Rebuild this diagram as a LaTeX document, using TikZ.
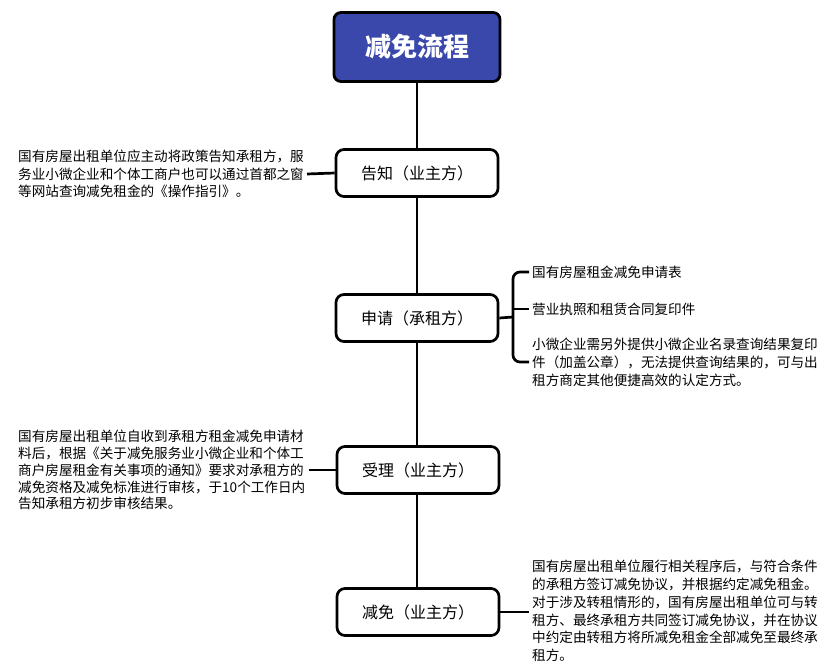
\documentclass[tikz,border=0pt]{standalone}
\usepackage{fontspec}
\setmainfont{Noto Sans CJK SC}
\definecolor{titleblue}{RGB}{57,72,170}
\begin{document}
\begin{tikzpicture}[x=1pt,y=-1pt,
  titlebox/.style={draw=black, fill=titleblue, line width=2.8pt, rounded corners=7pt,
    minimum width=166pt, minimum height=69pt, text=white,
    font=\fontsize{26}{30}\selectfont\bfseries},
  stepbox/.style={draw=black, fill=white, line width=2.7pt, rounded corners=8pt,
    minimum width=162pt, minimum height=47pt, font=\fontsize{16}{20}\selectfont},
  desc/.style={anchor=west, align=left, inner xsep=3pt, inner ysep=0pt,
    font=\fontsize{13.6}{17.5}\selectfont},
  link/.style={draw=black, line width=2.7pt}]
\useasboundingbox (0,0) rectangle (832,666);
\fill[white] (0,0) rectangle (832,666);

\node[titlebox] (title) at (417,47) {减免流程};
\node[stepbox] (gz) at (417,173) {告知（业主方）};
\node[stepbox] (sq) at (417,318) {申请（承租方）};
\node[stepbox] (sl) at (418,470) {受理（业主方）};
\node[stepbox] (jm) at (418,612) {减免（业主方）};

\node[desc] (t1) at (15,174) {国有房屋出租单位应主动将政策告知承租方，服\\务业小微企业和个体工商户也可以通过首都之窗\\等网站查询减免租金的《操作指引》。};
\node[desc, font=\fontsize{13.6}{16.9}\selectfont] (t3) at (15,470) {国有房屋出租单位自收到承租方租金减免申请材\\料后，根据《关于减免服务业小微企业和个体工\\商户房屋租金有关事项的通知》要求对承租方的\\减免资格及减免标准进行审核，于10个工作日内\\告知承租方初步审核结果。};
\node[desc] (t2a) at (529,272) {国有房屋租金减免申请表};
\node[desc] (t2b) at (529,309) {营业执照和租赁合同复印件};
\node[desc, font=\fontsize{13.6}{18}\selectfont] (t2c) at (529,362) {小微企业需另外提供小微企业名录查询结果复印\\件（加盖公章），无法提供查询结果的，可与出\\租方商定其他便捷高效的认定方式。};
\node[desc, font=\fontsize{13.6}{17.7}\selectfont] (t4) at (529,611) {国有房屋出租单位履行相关程序后，与符合条件\\的承租方签订减免协议，并根据约定减免租金。\\对于涉及转租情形的，国有房屋出租单位可与转\\租方、最终承租方共同签订减免协议，并在协议\\中约定由转租方将所减免租金全部减免至最终承\\租方。};

\coordinate (brk) at (513,317);

\draw[link] (title.south) -- (gz.north);
\draw[link] (gz.south) -- (sq.north);
\draw[link] (sq.south) -- (sl.north -| sq.south);
\draw[link] (sl.south -| sq.south) -- (jm.north -| sq.south);
\draw[link] (t1.east) -- (gz.west);
\draw[link] (t3.east) -- (sl.west);
\draw[link] (jm.east) -- (t4.west |- jm.east);
\draw[link] (sq.east) -- (brk);
\draw[link, rounded corners=7pt] (t2a.west) -| (brk) |- (t2c.west);
\draw[link] (t2b.west) -- (t2b.west -| brk);
\end{tikzpicture}
\end{document}
